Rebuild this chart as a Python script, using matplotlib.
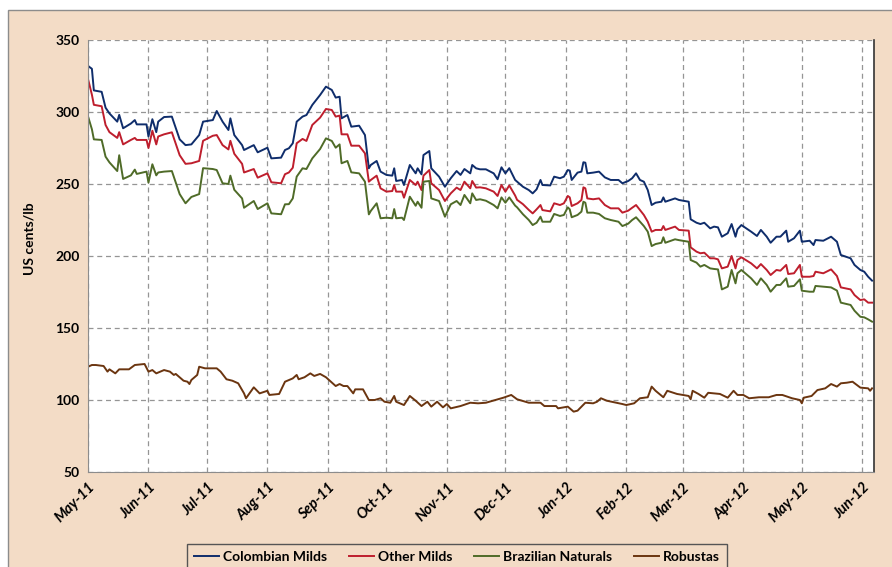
import pandas as pd
import matplotlib.pyplot as plt
import matplotlib.dates as mdates
from matplotlib.patches import Rectangle

# ICO indicator prices (US cents/lb)
dates = ['2011-05-01', '2011-05-03', '2011-05-04', '2011-05-08', '2011-05-10', '2011-05-12',
         '2011-05-16', '2011-05-17', '2011-05-19', '2011-05-23', '2011-05-25', '2011-05-26',
         '2011-05-31', '2011-06-01', '2011-06-03', '2011-06-05', '2011-06-06', '2011-06-09',
         '2011-06-13', '2011-06-17', '2011-06-20', '2011-06-23', '2011-06-27', '2011-06-29',
         '2011-07-04', '2011-07-06', '2011-07-09', '2011-07-12', '2011-07-13', '2011-07-15',
         '2011-07-19', '2011-07-20', '2011-07-25', '2011-07-27', '2011-08-01', '2011-08-03',
         '2011-08-08', '2011-08-10', '2011-08-12', '2011-08-14', '2011-08-16', '2011-08-19',
         '2011-08-21', '2011-08-24', '2011-08-28', '2011-08-31', '2011-09-03', '2011-09-05',
         '2011-09-07', '2011-09-08', '2011-09-11', '2011-09-13', '2011-09-17', '2011-09-20',
         '2011-09-22', '2011-09-23', '2011-09-26', '2011-09-28', '2011-10-01', '2011-10-04',
         '2011-10-05', '2011-10-06', '2011-10-09', '2011-10-10', '2011-10-13', '2011-10-16',
         '2011-10-17', '2011-10-19', '2011-10-20', '2011-10-23', '2011-10-24', '2011-10-28',
         '2011-10-31', '2011-11-03', '2011-11-06', '2011-11-08', '2011-11-10', '2011-11-13',
         '2011-11-14', '2011-11-16', '2011-11-18', '2011-11-21', '2011-11-25', '2011-11-27',
         '2011-11-29', '2011-12-01', '2011-12-03', '2011-12-06', '2011-12-07', '2011-12-10',
         '2011-12-13', '2011-12-15', '2011-12-17', '2011-12-19', '2011-12-20', '2011-12-24',
         '2011-12-26', '2011-12-29', '2011-12-31', '2012-01-02', '2012-01-03', '2012-01-04',
         '2012-01-07', '2012-01-09', '2012-01-10', '2012-01-11', '2012-01-12', '2012-01-15',
         '2012-01-18', '2012-01-21', '2012-01-24', '2012-01-28', '2012-01-30', '2012-02-02',
         '2012-02-04', '2012-02-06', '2012-02-08', '2012-02-10', '2012-02-12', '2012-02-14',
         '2012-02-16', '2012-02-19', '2012-02-20', '2012-02-21', '2012-02-26', '2012-02-28',
         '2012-03-04', '2012-03-05', '2012-03-08', '2012-03-10', '2012-03-12', '2012-03-15',
         '2012-03-17', '2012-03-19', '2012-03-21', '2012-03-24', '2012-03-26', '2012-03-28',
         '2012-03-29', '2012-03-31', '2012-04-05', '2012-04-08', '2012-04-10', '2012-04-13',
         '2012-04-15', '2012-04-18', '2012-04-20', '2012-04-23', '2012-04-24', '2012-04-27',
         '2012-04-30', '2012-05-01', '2012-05-05', '2012-05-07', '2012-05-08', '2012-05-12',
         '2012-05-16', '2012-05-19', '2012-05-21', '2012-05-26', '2012-05-28', '2012-05-31',
         '2012-06-02', '2012-06-04', '2012-06-06']

colombian = [332, 330, 315, 314, 303, 299, 293.3, 298, 288.7, 292, 294.4, 291.4,
             291.4, 283, 295, 286, 293.3, 296.5, 296.8, 281, 277, 277.5, 284, 293.3,
             294.4, 300.7, 293.3, 287.5, 295.6, 284, 277, 273.6, 277, 272, 275.2, 267.8,
             268.3, 273.6, 274.8, 278.3, 293.3, 296.8, 297.9, 304.9, 311.8, 317.6, 315.3, 310,
             310.6, 295.6, 297.9, 289.8, 290.5, 284, 260.9, 263.2, 266, 258.6, 256.3, 255.8,
             260.9, 252.1, 252.8, 249.3, 263.2, 257.4, 260.9, 256.7, 270.1, 272.9, 260.9, 255.1,
             248.1, 254, 259, 256.3, 260.4, 257.4, 263.2, 260.9, 260.2, 260.2, 257.4, 253.3,
             261.6, 257.4, 261, 252.8, 251.6, 248.1, 245.8, 243.5, 246.3, 252.8, 249.3, 249,
             255.1, 254, 255.1, 259.7, 259.3, 252.8, 257.9, 258.6, 265.1, 264.8, 257.4, 257.9,
             258.6, 254.6, 252.8, 252.8, 250.5, 252.1, 254, 257.4, 252.8, 251.6, 245.8, 235.4,
             237, 237.7, 240.7, 237.7, 240, 238.9, 237.7, 225.5, 223.1, 222.2, 223.1, 219.2,
             220.4, 219.9, 213.4, 215.8, 222.2, 213.4, 218.5, 221.5, 216.9, 213.9, 218.1, 213.4,
             209.2, 213.4, 213.4, 217.6, 209.9, 212.3, 217.6, 209.9, 210.6, 207.6, 211.1, 210.6,
             213.4, 209.9, 200.7, 198.4, 193.8, 190.3, 189.1, 185.6, 182.9]

other_milds = [323, 312, 305, 304, 291, 286, 282, 286, 277.5, 280.6, 282, 280.6,
               280.6, 275, 287, 277.5, 283, 284.5, 285.9, 270, 264, 264.4, 266, 280,
               283.5, 284, 277, 274, 280, 271, 264, 258, 260.4, 254.4, 257.4, 251.2,
               250.5, 256.8, 258, 261.3, 278.3, 281.3, 279.9, 291, 296.1, 302.1, 301.4, 296.8,
               297.5, 284.5, 284.5, 276.6, 276.6, 271.3, 251.6, 252.8, 255.8, 247, 244.7, 245.1,
               249.3, 244.7, 244.7, 240.5, 252.8, 249.3, 251.6, 245.8, 255.8, 259.7, 250.5, 245.8,
               238.2, 243.5, 247.5, 245.8, 251.6, 247, 252.1, 247.5, 247.7, 247, 244.7, 241.7,
               249.3, 244.7, 249, 242, 239, 236, 232, 229.6, 232.4, 235.4, 231.9, 231,
               236.6, 235.4, 236.6, 241.7, 240.7, 234.7, 236.6, 238.9, 247.7, 247, 240, 239.4,
               240, 235.4, 233.1, 233.1, 230.1, 231.5, 233.5, 235.4, 231.9, 228.5, 223.8, 216.9,
               218.1, 218.1, 220.8, 218.1, 220.4, 218.1, 217.6, 206, 203, 201.9, 202.3, 198.4,
               198.4, 197.7, 191.4, 192.6, 200, 191.4, 197.2, 199.1, 194.9, 191.4, 194.4, 190.3,
               186.8, 190.3, 189.8, 193.8, 187.5, 188, 193.8, 185.6, 185.6, 186.1, 189.1, 188,
               190.7, 186.1, 178.2, 176.8, 172.9, 169.4, 169.9, 167.6, 167.6]

brazilian = [297, 288, 281, 280.6, 269, 265, 259, 270, 253.5, 256, 260, 257,
             258.6, 251, 263.7, 256, 258, 258.6, 259, 243, 236.6, 241, 243, 261,
             260.4, 259.7, 250.5, 250, 255.8, 246, 240, 233.5, 238.2, 232.6, 236.6, 229.6,
             229, 235.9, 236, 240, 255.1, 260.9, 260.4, 267.8, 274.3, 281.7, 279.9, 275.2,
             277.5, 264.4, 266, 258.1, 257.4, 251.6, 228.9, 231.3, 236.6, 226.2, 226.6, 226.2,
             232.6, 226.2, 226.6, 225, 241.2, 234.9, 237.7, 233.5, 251.6, 252.1, 240, 238.2,
             227.3, 235.9, 238.2, 235.4, 242.4, 236.6, 243.5, 238.9, 239.4, 238.4, 235.4, 233.1,
             240.7, 237, 240.7, 235, 233.8, 229, 225, 221.5, 223.1, 227.3, 223.8, 223.8,
             229.2, 227.8, 228.5, 233.8, 232.4, 226.9, 228.5, 230.8, 237.7, 237, 230.1, 230.1,
             229.2, 226.2, 225, 223.8, 220.8, 222.5, 225, 226.9, 223.8, 220.8, 216.9, 206.9,
             208.3, 209.2, 213, 209.2, 211.6, 211, 209.9, 197.2, 195.4, 192.6, 193.8, 191.4,
             191, 190.7, 176.8, 178.7, 190.3, 181, 188, 190.3, 184.5, 179.9, 184.5, 179.9,
             175.2, 179.9, 179.9, 184.5, 178.7, 179.2, 183.8, 175.9, 175.2, 175.2, 179.2, 178.7,
             178.2, 176, 167.6, 166, 162, 157.8, 157.4, 156, 154.4]

rob_dates = ['2011-05-01', '2011-05-03', '2011-05-05', '2011-05-09', '2011-05-11', '2011-05-12',
             '2011-05-15', '2011-05-17', '2011-05-22', '2011-05-25', '2011-05-30', '2011-06-01',
             '2011-06-03', '2011-06-05', '2011-06-09', '2011-06-12', '2011-06-14', '2011-06-15',
             '2011-06-19', '2011-06-21', '2011-06-22', '2011-06-23', '2011-06-26', '2011-06-27',
             '2011-06-30', '2011-07-06', '2011-07-08', '2011-07-11', '2011-07-14', '2011-07-17',
             '2011-07-20', '2011-07-21', '2011-07-25', '2011-07-28', '2011-08-01', '2011-08-02',
             '2011-08-07', '2011-08-10', '2011-08-14', '2011-08-16', '2011-08-17', '2011-08-20',
             '2011-08-23', '2011-08-25', '2011-08-28', '2011-08-31', '2011-09-05', '2011-09-07',
             '2011-09-09', '2011-09-11', '2011-09-14', '2011-09-15', '2011-09-19', '2011-09-22',
             '2011-09-25', '2011-09-28', '2011-09-30', '2011-10-03', '2011-10-05', '2011-10-06',
             '2011-10-10', '2011-10-13', '2011-10-16', '2011-10-19', '2011-10-22', '2011-10-24',
             '2011-10-27', '2011-10-30', '2011-11-01', '2011-11-03', '2011-11-08', '2011-11-13',
             '2011-11-17', '2011-11-21', '2011-11-26', '2011-11-30', '2011-12-04', '2011-12-07',
             '2011-12-13', '2011-12-19', '2011-12-21', '2011-12-27', '2011-12-28', '2012-01-02',
             '2012-01-05', '2012-01-07', '2012-01-11', '2012-01-15', '2012-01-17', '2012-01-19',
             '2012-01-22', '2012-01-30', '2012-02-01', '2012-02-05', '2012-02-08', '2012-02-12',
             '2012-02-14', '2012-02-16', '2012-02-20', '2012-02-22', '2012-02-27', '2012-03-04',
             '2012-03-05', '2012-03-06', '2012-03-09', '2012-03-12', '2012-03-14', '2012-03-20',
             '2012-03-24', '2012-03-27', '2012-03-29', '2012-04-01', '2012-04-04', '2012-04-09',
             '2012-04-14', '2012-04-18', '2012-04-21', '2012-04-26', '2012-04-30', '2012-05-01',
             '2012-05-02', '2012-05-06', '2012-05-09', '2012-05-13', '2012-05-16', '2012-05-19',
             '2012-05-21', '2012-05-24', '2012-05-27', '2012-05-31', '2012-06-04', '2012-06-05',
             '2012-06-06']

robustas = [123.1, 124.3, 124.3, 123.6, 119.7, 121.3, 118.5, 121.3, 121.3, 124.3, 125, 119.7,
            120.8, 118.5, 120.8, 119.7, 117.4, 118.1, 113.4, 112.7, 111.1, 113.9, 117.4, 123.1,
            122, 122, 119.7, 114.4, 113.4, 111.6, 104.6, 101.2, 108.8, 104.6, 106.4, 103.5,
            104.2, 112.7, 115, 117.4, 114.4, 115.8, 118.5, 116.7, 118.1, 115.8, 109.7, 111.1,
            109.7, 109.7, 104.6, 107.4, 107.4, 100, 100, 101.2, 98.8, 98.1, 102.8, 98.8,
            96.5, 102.8, 99.5, 95.8, 98.8, 95.4, 98.8, 94.9, 97.2, 94.2, 95.8, 98.1,
            97.7, 98.1, 100, 101.6, 103.5, 100.5, 98.1, 98.1, 95.8, 95.8, 94.2, 95.4,
            91.9, 92.6, 98.1, 97.7, 98.8, 101.2, 99.5, 97.2, 96.5, 97.7, 101.2, 101.9,
            109.3, 106.4, 101.9, 106.4, 104.2, 102.8, 100.5, 106.4, 104.2, 101.6, 105, 104.2,
            101.6, 106.4, 103.5, 103.5, 101.2, 101.9, 101.9, 103.5, 103.5, 101.2, 100, 97.7,
            101.6, 102.8, 106.9, 108.1, 111.1, 109.3, 111.6, 112, 112.7, 108.6, 108.1, 106.4,
            108.1]

month_ticks = pd.date_range('2011-05-01', '2012-06-01', freq='MS')

peach = '#F3DCC6'
font = 'Lato'

fig = plt.figure(figsize=(8.92, 5.67), dpi=100, facecolor='white')
fig.patches.append(Rectangle((8 / 892, -0.05), 1.0, 1 - 10 / 567 + 0.05,
                             transform=fig.transFigure, facecolor=peach,
                             edgecolor='#8c8c8c', linewidth=1.0, zorder=-10))

ax = fig.add_axes([88 / 892, 1 - 472 / 567, (874 - 88) / 892, (472 - 40) / 567])
ax.set_zorder(1)
ax.set_facecolor('white')

x = pd.to_datetime(dates)
ax.plot(x, colombian, color='#0F2D6B', lw=1.4, label='Colombian Milds')
ax.plot(x, other_milds, color='#BE1E2D', lw=1.4, label='Other Milds')
ax.plot(x, brazilian, color='#4F6B28', lw=1.4, label='Brazilian Naturals')
ax.plot(pd.to_datetime(rob_dates), robustas, color='#6B3510', lw=1.4, label='Robustas')

ax.set_ylim(50, 350)
ax.set_yticks(range(50, 351, 50))
ax.set_xlim(pd.Timestamp('2011-05-01'), pd.Timestamp('2012-06-07'))
ax.set_xticks(month_ticks)
ax.xaxis.set_major_formatter(mdates.DateFormatter('%b-%y'))

ax.grid(True, color='#959595', linestyle=(0, (4, 3)), linewidth=0.9)
ax.set_axisbelow(True)
ax.tick_params(length=0, pad=6)
for lab in ax.get_yticklabels():
    lab.set_fontfamily(font)
    lab.set_fontweight('bold')
    lab.set_fontsize(10)
for lab in ax.get_xticklabels():
    lab.set_fontfamily(font)
    lab.set_fontweight('bold')
    lab.set_fontstyle('italic')
    lab.set_fontsize(10.5)
    lab.set_rotation(45)
    lab.set_ha('right')
    lab.set_rotation_mode('anchor')

ax.spines['top'].set_visible(False)
ax.spines['left'].set_color('#8c8c8c')
ax.spines['bottom'].set_color('#8c8c8c')
ax.spines['right'].set_color('#333333')
ax.spines['right'].set_linewidth(1.2)

ax.set_ylabel('US cents/lb', fontfamily=font, fontweight='bold', fontsize=10)
ax.yaxis.set_label_coords(-0.067, 0.54)

leg = fig.legend(loc='center', bbox_to_anchor=(457 / 892, 1 - 557 / 567), ncol=4,
                 frameon=True, fancybox=False, edgecolor='#555555', facecolor=peach,
                 framealpha=1, handlelength=1.8, handletextpad=0.25, columnspacing=1.6,
                 borderpad=0.5, prop={'family': font, 'weight': 'bold', 'size': 10})
leg.get_frame().set_linewidth(1.0)

fig.savefig('out.png', dpi=100, facecolor='white')
